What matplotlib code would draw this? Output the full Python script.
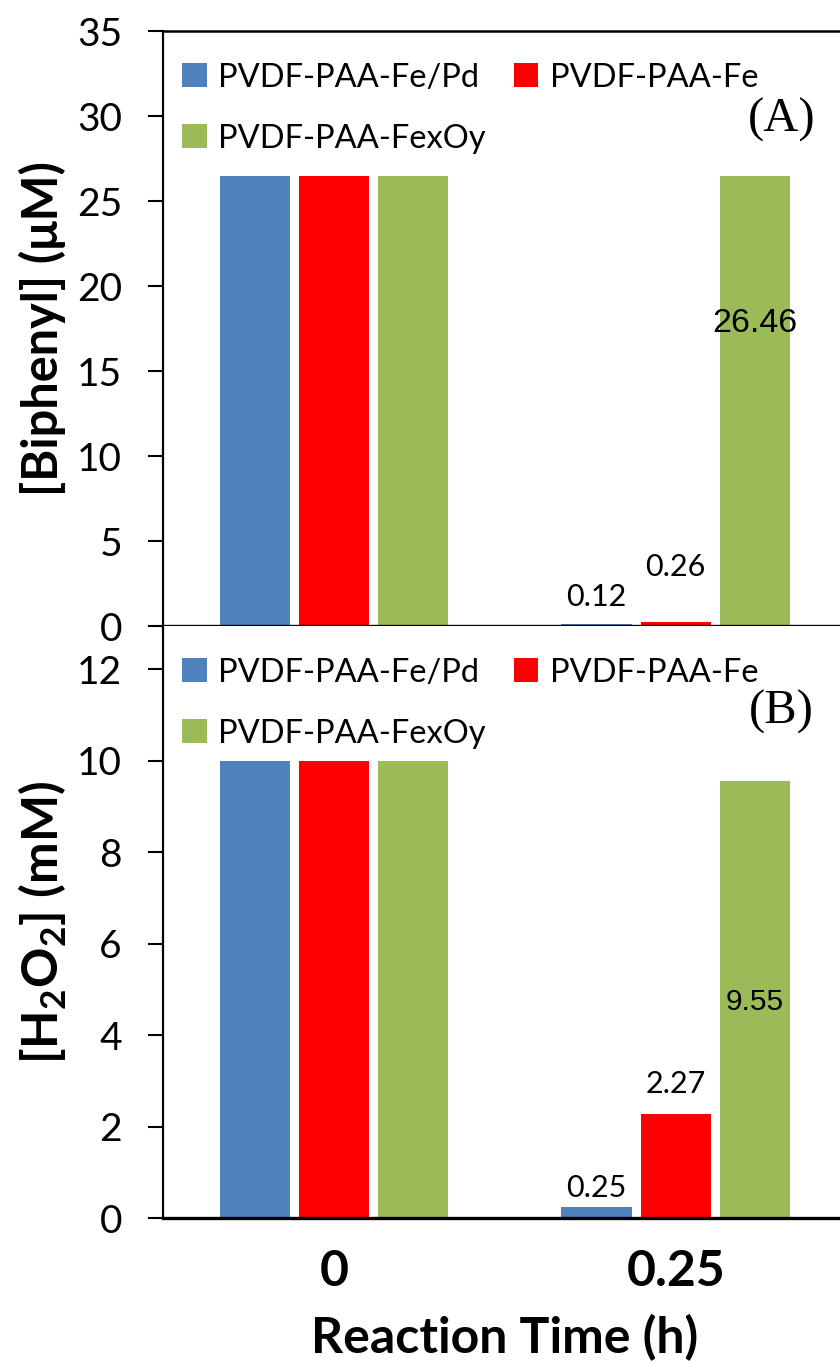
import matplotlib

matplotlib.use("Agg")
import matplotlib.pyplot as plt
import numpy as np

BLUE = "#4F81BD"
RED = "#FF0000"
GREEN = "#9BBB59"

times = ["0", "0.25"]
series = ["PVDF-PAA-Fe/Pd", "PVDF-PAA-Fe", "PVDF-PAA-FexOy"]
biphenyl = [
    [26.46, 0.12],
    [26.46, 0.26],
    [26.46, 26.46],
]
h2o2 = [
    [10.0, 0.25],
    [10.0, 2.27],
    [10.0, 9.55],
]

plt.rcParams["font.family"] = ["Lato", "DejaVu Sans"]
plt.rcParams["mathtext.fontset"] = "custom"
plt.rcParams["mathtext.rm"] = "Lato"
plt.rcParams["mathtext.bf"] = "Lato:bold"

fig = plt.figure(figsize=(8.4, 13.61), dpi=100)
ax_a = fig.add_axes([0.194, 0.540, 0.814, 0.4372])
ax_b = fig.add_axes([0.194, 0.105, 0.814, 0.435])

x = np.arange(len(times))
offsets = [-0.232, 0.0, 0.232]
width = 0.205
colors = [BLUE, RED, GREEN]


def draw_panel(ax, values, ymax, yticks, tag, tag_y):
    bars = []
    for off, vals, color, name in zip(offsets, values, colors, series):
        b = ax.bar(x + off, vals, width, color=color, label=name, zorder=2)
        bars.append(b)
    ax.set_xlim(-0.5, 1.5)
    ax.set_ylim(0, ymax)
    ax.set_yticks(yticks)
    ax.tick_params(axis="y", direction="out", length=10.5, width=1.5, labelsize=28, pad=19)
    ax.tick_params(axis="x", length=0)
    ax.spines["left"].set_linewidth(1.6)
    ax.spines["bottom"].set_linewidth(2.4)
    ax.spines["right"].set_visible(False)
    handles = [bars[0], bars[2], bars[1]]
    labels = [series[0], series[2], series[1]]
    ax.legend(
        handles,
        labels,
        ncol=2,
        loc="upper left",
        bbox_to_anchor=(-0.005, 0.985),
        frameon=False,
        fontsize=23.5,
        handlelength=0.75,
        handleheight=0.75,
        handletextpad=0.35,
        columnspacing=0.85,
        labelspacing=0.95,
        borderaxespad=0.3,
    )
    ax.text(0.905, tag_y, tag, transform=ax.transAxes,
            family="Liberation Serif", fontsize=35, ha="center", va="center")
    return bars


bars_a = draw_panel(ax_a, biphenyl, 35, range(0, 36, 5), "(A)", 0.85)
ax_a.spines["top"].set_linewidth(1.8)
ax_a.set_xticks(x)
ax_a.set_xticklabels([])

bars_b = draw_panel(ax_b, h2o2, 12.94, range(0, 13, 2), "(B)", 0.855)
ax_b.spines["top"].set_visible(False)
ax_b.set_xticks(x, times, fontsize=36, fontweight="bold")
ax_b.tick_params(axis="x", pad=22)
ax_b.set_xlabel("Reaction Time (h)", fontsize=36, fontweight="bold", labelpad=15)

ax_a.set_ylabel("[Biphenyl] (μM)", fontsize=35, fontweight="bold")
ax_b.set_ylabel(r"[H$_\mathbf{2}$O$_\mathbf{2}$] (mM)", fontsize=36, fontweight="bold")
for ax in (ax_a, ax_b):
    ax.yaxis.set_label_coords(-0.176, 0.5)
    ax.yaxis.label.set_va("center")

# value labels for 0.25 h
small_font = dict(fontsize=22, ha="center", va="center")
ax_a.annotate(f"{biphenyl[0][1]:.2f}", (x[1] + offsets[0], biphenyl[0][1]),
              xytext=(0, 19.5), textcoords="offset points", **small_font)
ax_a.annotate(f"{biphenyl[1][1]:.2f}", (x[1] + offsets[1], biphenyl[1][1]),
              xytext=(0, 39), textcoords="offset points", **small_font)
ax_a.text(x[1] + offsets[2], biphenyl[2][1] * 0.672, f"{biphenyl[2][1]:.2f}",
          family="Liberation Sans", fontsize=24.5, ha="center", va="center")

ax_b.annotate(f"{h2o2[0][1]:.2f}", (x[1] + offsets[0], h2o2[0][1]),
              xytext=(0, 13.4), textcoords="offset points", **small_font)
ax_b.annotate(f"{h2o2[1][1]:.2f}", (x[1] + offsets[1], h2o2[1][1]),
              xytext=(0, 22), textcoords="offset points", **small_font)
ax_b.text(x[1] + offsets[2], h2o2[2][1] * 0.494, f"{h2o2[2][1]:.2f}",
          family="Liberation Sans", fontsize=21.5, ha="center", va="center")

fig.savefig("out.png", dpi=100)
